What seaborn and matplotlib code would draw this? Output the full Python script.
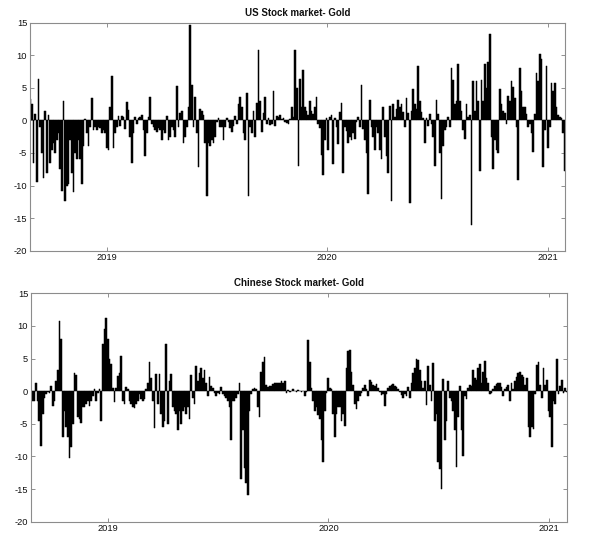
import numpy as np
import pandas as pd
import matplotlib
matplotlib.use("Agg")
import matplotlib.pyplot as plt
import matplotlib.dates as mdates
import seaborn as sns

# values, roughly every two trading days
us_gold = [
    3.3, 2.5, -6.6, 1.0, -9.5, 6.4, -1.0, -5.0, -8.8, 1.4,
    -8.0, 0.8, -6.5, -4.5, -3.5, -5.0, -3.0, -2.0, -7.5, -10.8,
    3.0, -12.3, -10.0, -9.7, -3.0, -8.0, -11.0, -5.0, -6.0, -3.0,
    -6.0, -9.7, -4.0, 0.2, -2.0, -4.0, -1.0, 3.5, -1.5, -1.0,
    -1.5, -1.0, -1.2, -2.0, -1.5, -2.0, -4.3, -4.5, 2.0, 6.8,
    -4.3, -2.0, -1.0, 0.6, -0.8, 0.6, 0.5, -1.3, 2.8, 1.6,
    -2.5, -6.5, -2.0, 0.5, -0.5, 0.4, 0.5, 0.8, -1.5, -5.4,
    -2.0, 0.5, 3.6, -0.5, -1.0, -1.5, -1.8, -1.2, -1.5, -3.0,
    -1.5, -2.0, 0.7, -3.0, -2.5, -1.0, -1.5, -2.5, 5.3, -1.0,
    1.2, 1.5, -3.4, -2.5, -1.0, 2.0, 14.7, 5.5, -1.0, 3.6,
    -2.0, -7.2, 1.8, 1.5, 0.8, -3.5, -11.6, -3.5, -4.0, -3.0,
    -3.5, -2.5, -0.3, 0.4, -1.0, -1.0, -3.0, -1.0, 0.3, -0.2,
    -1.2, -1.8, -0.8, 0.6, -0.5, 2.5, 3.6, 2.1, -2.0, -3.0,
    4.2, -11.6, -1.0, -2.0, 1.5, -2.5, 2.7, 10.8, 3.0, -1.8,
    1.2, 3.6, -0.5, 0.4, -0.7, -0.5, 4.5, -0.8, 0.7, 0.5,
    0.8, 0.2, 0.4, -0.3, -0.4, -0.5, 0.2, 2.0, 0.5, 10.8,
    5.0, -7.0, 6.3, 2.0, 7.7, 2.0, 1.5, 0.8, 3.0, 1.5,
    1.0, 2.0, 3.6, -0.5, -1.2, -5.3, -8.4, -3.0, 0.3, -4.5,
    0.5, 0.8, -6.7, 0.4, -1.0, -3.6, 1.3, 2.7, -8.0, -1.0,
    -1.7, -3.5, -2.5, -3.0, -2.0, -2.8, -0.2, 0.5, -1.0, 5.5,
    -1.3, -3.0, -5.0, -11.3, 3.2, -1.0, -2.5, -4.5, -1.0, -2.0,
    -4.5, -6.0, 2.0, -2.5, -5.5, -8.0, 2.2, -12.3, 2.5, 0.5,
    1.7, 3.2, 2.0, 2.5, 1.3, -1.0, 3.5, 1.2, -12.7, 1.4,
    4.8, 2.5, 1.7, 8.4, 3.0, 1.3, 0.3, -3.5, 0.3, -0.8,
    1.0, -0.5, -2.5, -7.0, 3.2, 1.0, -5.0, -12.0, -4.0, -1.5,
    -1.0, 0.5, -1.0, 8.0, 6.2, 2.5, 3.0, 8.6, 3.0, 1.5,
    -1.5, -2.8, 2.5, 0.5, 0.8, -16.1, 6.1, 1.5, 6.0, 3.0,
    -7.8, 6.2, 3.0, 8.6, 5.0, 9.0, 13.3, -2.5, -7.5, -3.0,
    -4.5, -5.0, 4.8, 2.5, 1.5, 1.2, -0.5, 3.8, 3.0, 6.1,
    5.2, 3.5, -1.0, -9.1, 8.0, 4.5, 2.0, 2.0, 1.0, -1.0,
    -0.5, -2.0, -4.8, 1.0, 7.3, 6.0, 10.2, 9.5, -7.2, -1.5,
    8.4, -4.3, -1.0, 5.7, 4.5, 5.8, 2.0, 0.8, 0.5, 0.3,
    -2.0, -7.8,
]

cn_gold = [
    -0.3, -1.5, -1.5, 1.3, -1.5, -4.5, -8.4, -3.5, -1.0, -0.5,
    -0.2, -0.3, 0.8, -2.3, -1.5, 1.5, 3.3, 10.8, 8.0, -7.0,
    -3.0, -5.5, -7.0, -10.2, -8.5, -5.0, 2.8, 2.5, -4.0, -4.3,
    -4.8, -2.5, -2.5, -2.0, -1.5, -2.2, -1.5, -0.8, 0.3, -1.5,
    -0.3, 0.3, -4.5, 7.3, 9.5, 11.2, 8.0, 5.0, 4.2, 0.5,
    -1.7, 0.5, 2.3, 2.8, 5.4, -1.5, -2.0, 0.6, 0.3, -1.5,
    -2.0, -2.5, -2.6, -2.0, -1.5, -0.5, -1.2, -1.5, -1.2, 0.4,
    1.3, 4.5, 2.0, -1.5, -5.7, 2.6, -2.0, 2.6, -3.5, -5.5,
    -4.5, 7.2, -5.0, 1.5, 2.6, -2.5, -3.0, -3.5, -6.0, -3.0,
    -5.0, -3.0, -2.5, -3.5, -2.5, -4.3, 2.5, -1.0, -2.0, 3.9,
    1.5, 2.8, 3.5, 2.0, 3.2, 1.3, -0.8, 2.2, 0.8, 0.5,
    -0.3, -0.8, -0.3, -0.5, 0.6, -0.5, -0.8, -1.0, -1.5, -2.5,
    -7.5, -1.5, -1.5, -1.0, -0.5, 1.2, -13.5, -6.0, -11.7, -14.0,
    -15.9, -3.0, -0.5, 0.3, 0.5, 0.3, -2.5, -4.0, 3.0, 4.5,
    5.3, 1.0, 0.6, 0.8, 0.8, 1.1, 1.2, 1.2, 1.3, 1.2,
    1.5, 1.2, 1.5, -0.3, 0.2, -0.2, 0.1, 0.3, 0.1, -0.1,
    0.2, 0.1, -0.2, 0.1, -0.7, -0.1, 7.9, 4.5, 0.5, -1.5,
    -3.0, -2.5, -3.7, -4.2, -7.5, -10.8, -3.0, -0.3, 2.0, 0.5,
    0.3, -3.5, -7.0, -3.5, -2.5, -2.5, -4.5, -3.5, -5.3, 3.5,
    6.2, 6.3, 3.0, 1.0, -2.0, -2.7, -1.5, -0.8, -0.3, 0.5,
    1.0, 0.3, -0.8, 1.7, 1.4, 1.0, 0.8, 1.1, 0.5, -0.2,
    -0.6, -0.5, -2.2, -0.5, 0.5, 0.8, 1.0, 1.1, 0.8, 0.6,
    0.3, -0.2, -0.6, -1.0, -0.5, -0.8, 0.6, -1.0, 1.2, 2.8,
    3.5, 4.9, 4.8, 3.3, 1.5, 0.5, 1.5, -2.1, 3.9, 1.0,
    -1.5, 4.3, -4.5, -3.5, -10.8, -12.0, -15.0, 1.8, -7.5, -4.5,
    1.5, -1.0, -1.5, -3.0, -6.0, -11.6, -4.0, 0.8, -6.0, -10.0,
    -0.8, -1.2, 0.5, 1.0, 0.8, 3.3, 2.0, 1.7, 3.5, 4.1,
    1.3, 3.0, 4.6, 2.0, 1.3, -0.5, -0.3, 0.3, 0.8, 1.1,
    1.2, 1.2, 0.6, -0.8, 0.3, 0.6, 1.0, -1.5, 1.2, 0.3,
    1.5, 2.2, 2.8, 3.0, 2.5, 2.2, 1.0, 2.0, -5.5, -7.0,
    -5.5, -5.8, -0.5, 4.0, 4.5, 1.0, -1.0, 3.5, 1.0, 1.7,
    -3.0, -4.0, -8.5, -1.5, -2.0, 5.0, -0.5, 0.8, 1.7, -0.3,
    0.5, -0.2,
]

start_date = "2018-08-26"
end_date = "2021-01-30"
year_ticks = ["2019-01-01", "2020-01-01", "2021-01-01"]
year_labels = ["2019", "2020", "2021"]
y_ticks = [-20, -15, -10, -5, 0, 5, 10, 15]
titles = ["US Stock market- Gold", "Chinese Stock market- Gold"]


def plot_panel(ax, values, title):
    """
    Draws one spike chart of the daily spillover values
    """
    dates = pd.date_range(start_date, end_date, periods=len(values))
    df = pd.DataFrame({"t": mdates.date2num(dates), "v": values})
    sns.barplot(data=df, x="t", y="v", native_scale=True, color="black",
                saturation=1, width=1.0, linewidth=0.35, edgecolor="black",
                errorbar=None, ax=ax)
    ax.set_xlim(df["t"].iloc[0], df["t"].iloc[-1])
    ax.set_ylim(-20, 15)
    ax.set_yticks(y_ticks)
    ax.set_yticklabels([str(t) for t in y_ticks])
    ax.set_xticks(mdates.date2num(pd.to_datetime(year_ticks)))
    ax.set_xticklabels(year_labels)
    ax.set_xlabel("")
    ax.set_ylabel("")
    ax.set_title(title, fontsize=7, fontweight="bold", pad=5, color="#111111")
    ax.tick_params(axis="both", which="both", direction="in", length=3,
                   width=0.6, color="#7f7f7f", top=True, right=True,
                   labelsize=6.7, pad=2, labelcolor="#111111")
    for spine in ax.spines.values():
        spine.set_visible(True)
        spine.set_color("#8c8c8c")
        spine.set_linewidth(0.8)


sns.set_style("ticks")
plt.rcParams["font.family"] = ["Liberation Sans", "DejaVu Sans"]

fig = plt.figure(figsize=(6.04, 5.56), dpi=100)
ax1 = fig.add_axes([0.0497, 0.5491, 0.8857, 0.4101])
ax2 = fig.add_axes([0.0513, 0.0617, 0.8870, 0.4108])

plot_panel(ax1, us_gold, titles[0])
plot_panel(ax2, cn_gold, titles[1])

fig.savefig("out.png", dpi=100, facecolor="white")
